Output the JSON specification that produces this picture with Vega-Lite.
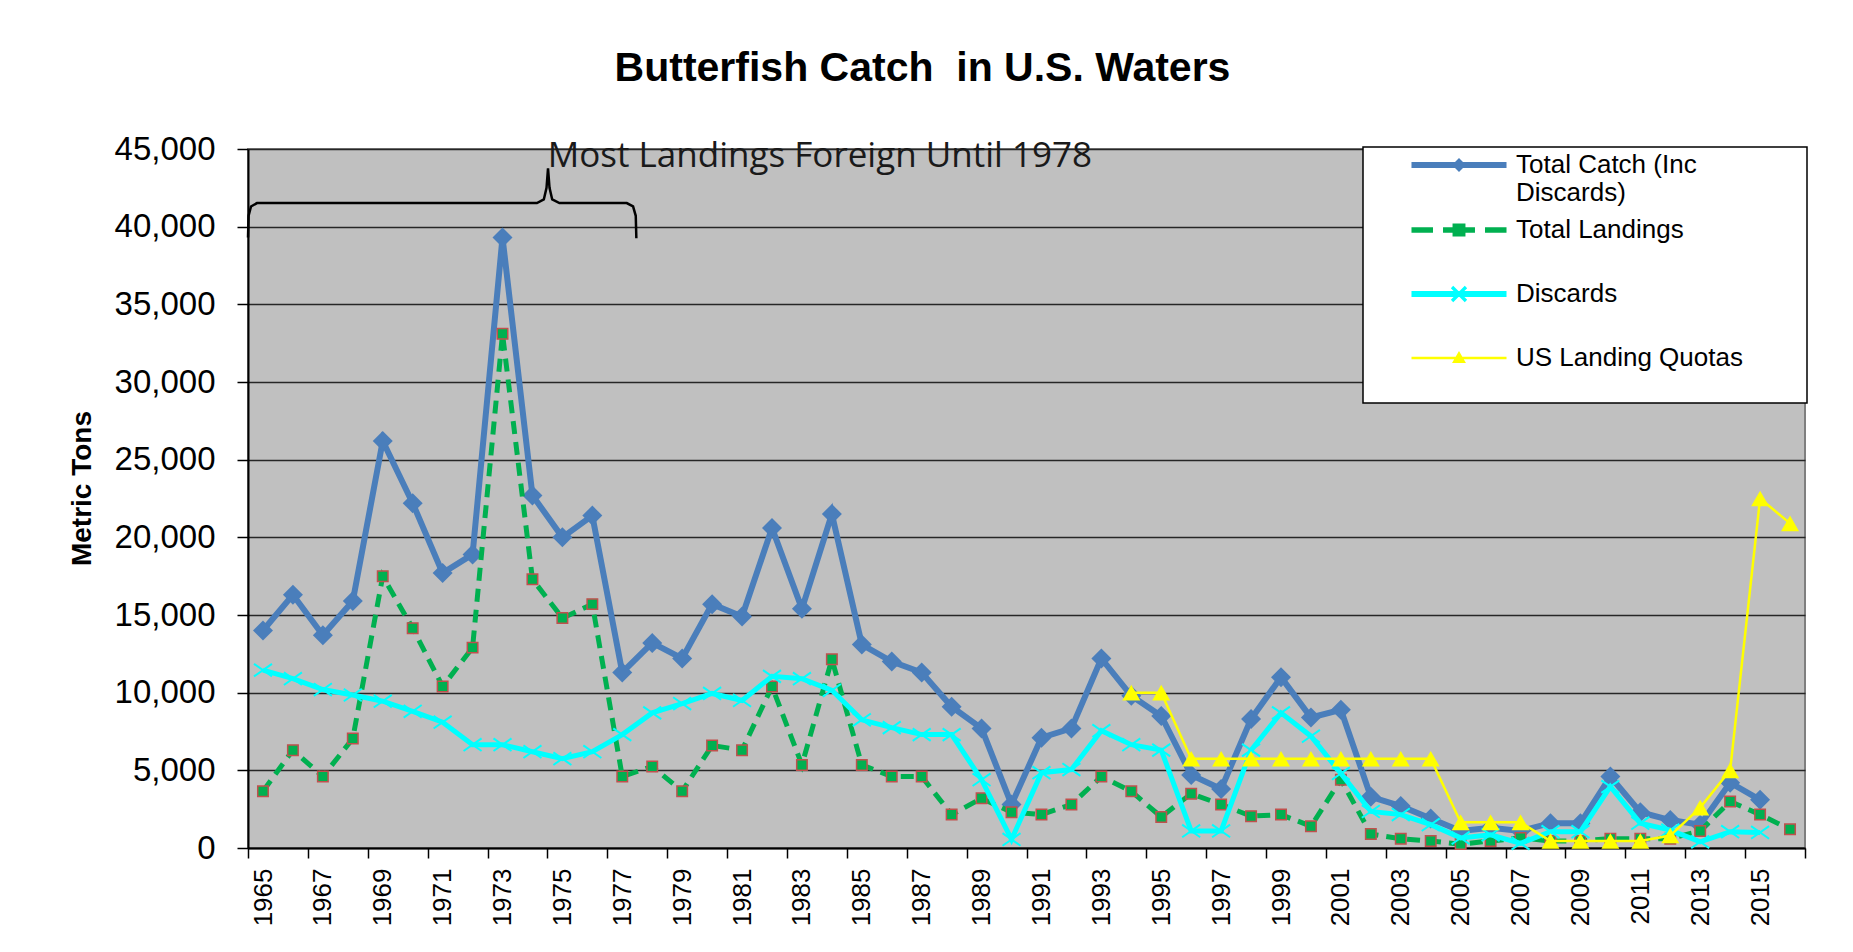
{
  "$schema": "https://vega.github.io/schema/vega-lite/v6.json",
  "width": 1557,
  "height": 699,
  "autosize": "none",
  "padding": {"left": 248, "top": 149, "right": 48, "bottom": 104},
  "background": "white",
  "config": {
    "font": "Liberation Sans",
    "view": {"fill": "#C0C0C0", "stroke": "#7F7F7F", "strokeWidth": 2}
  },
  "title": {
    "text": "Butterfish Catch\u00a0 in U.S. Waters",
    "font": "Liberation Sans",
    "fontSize": 41,
    "fontWeight": "bold",
    "color": "black",
    "anchor": "middle",
    "frame": "group",
    "baseline": "alphabetic",
    "offset": 11,
    "dx": -104
  },
  "datasets": {
    "catch": [
      {"year": 1965, "tc": 14000, "tl": 3650, "d": 11450, "q": null},
      {"year": 1966, "tc": 16300, "tl": 6300, "d": 10900, "q": null},
      {"year": 1967, "tc": 13700, "tl": 4600, "d": 10200, "q": null},
      {"year": 1968, "tc": 15900, "tl": 7050, "d": 9850, "q": null},
      {"year": 1969, "tc": 26200, "tl": 17500, "d": 9450, "q": null},
      {"year": 1970, "tc": 22200, "tl": 14150, "d": 8800, "q": null},
      {"year": 1971, "tc": 17700, "tl": 10400, "d": 8100, "q": null},
      {"year": 1972, "tc": 18900, "tl": 12900, "d": 6650, "q": null},
      {"year": 1973, "tc": 39300, "tl": 33100, "d": 6650, "q": null},
      {"year": 1974, "tc": 22700, "tl": 17300, "d": 6200, "q": null},
      {"year": 1975, "tc": 20000, "tl": 14800, "d": 5750, "q": null},
      {"year": 1976, "tc": 21400, "tl": 15700, "d": 6200, "q": null},
      {"year": 1977, "tc": 11300, "tl": 4600, "d": 7300, "q": null},
      {"year": 1978, "tc": 13200, "tl": 5250, "d": 8700, "q": null},
      {"year": 1979, "tc": 12200, "tl": 3650, "d": 9300, "q": null},
      {"year": 1980, "tc": 15700, "tl": 6600, "d": 9950, "q": null},
      {"year": 1981, "tc": 14900, "tl": 6300, "d": 9500, "q": null},
      {"year": 1982, "tc": 20600, "tl": 10400, "d": 11050, "q": null},
      {"year": 1983, "tc": 15400, "tl": 5350, "d": 10900, "q": null},
      {"year": 1984, "tc": 21500, "tl": 12150, "d": 10150, "q": null},
      {"year": 1985, "tc": 13100, "tl": 5350, "d": 8250, "q": null},
      {"year": 1986, "tc": 12000, "tl": 4600, "d": 7750, "q": null},
      {"year": 1987, "tc": 11300, "tl": 4600, "d": 7300, "q": null},
      {"year": 1988, "tc": 9100, "tl": 2150, "d": 7300, "q": null},
      {"year": 1989, "tc": 7700, "tl": 3200, "d": 4400, "q": null},
      {"year": 1990, "tc": 2800, "tl": 2300, "d": 550, "q": null},
      {"year": 1991, "tc": 7100, "tl": 2150, "d": 4850, "q": null},
      {"year": 1992, "tc": 7700, "tl": 2800, "d": 5050, "q": null},
      {"year": 1993, "tc": 12200, "tl": 4600, "d": 7550, "q": null},
      {"year": 1994, "tc": 9800, "tl": 3650, "d": 6650, "q": 10000},
      {"year": 1995, "tc": 8500, "tl": 2000, "d": 6300, "q": 10000},
      {"year": 1996, "tc": 4700, "tl": 3500, "d": 1100, "q": 5750},
      {"year": 1997, "tc": 3800, "tl": 2800, "d": 1100, "q": 5750},
      {"year": 1998, "tc": 8300, "tl": 2050, "d": 6300, "q": 5750},
      {"year": 1999, "tc": 11000, "tl": 2150, "d": 8700, "q": 5750},
      {"year": 2000, "tc": 8400, "tl": 1400, "d": 7200, "q": 5750},
      {"year": 2001, "tc": 8900, "tl": 4400, "d": 4800, "q": 5750},
      {"year": 2002, "tc": 3300, "tl": 900, "d": 2350, "q": 5750},
      {"year": 2003, "tc": 2700, "tl": 600, "d": 2150, "q": 5750},
      {"year": 2004, "tc": 1900, "tl": 450, "d": 1500, "q": 5750},
      {"year": 2005, "tc": 1100, "tl": 250, "d": 650, "q": 1650},
      {"year": 2006, "tc": 1300, "tl": 450, "d": 850, "q": 1650},
      {"year": 2007, "tc": 1100, "tl": 650, "d": 300, "q": 1650},
      {"year": 2008, "tc": 1600, "tl": 450, "d": 1050, "q": 450},
      {"year": 2009, "tc": 1600, "tl": 450, "d": 1050, "q": 450},
      {"year": 2010, "tc": 4600, "tl": 600, "d": 3950, "q": 450},
      {"year": 2011, "tc": 2300, "tl": 600, "d": 1600, "q": 450},
      {"year": 2012, "tc": 1800, "tl": 600, "d": 1150, "q": 800},
      {"year": 2013, "tc": 1500, "tl": 1100, "d": 400, "q": 2600},
      {"year": 2014, "tc": 4200, "tl": 3000, "d": 1050, "q": 5000},
      {"year": 2015, "tc": 3100, "tl": 2150, "d": 1000, "q": 22500},
      {"year": 2016, "tc": null, "tl": 1200, "d": null, "q": 20900}
    ],
    "brace": [
      {"i": 0, "bx": 1964.5, "by": 39300},
      {"i": 1, "bx": 1964.52, "by": 40700},
      {"i": 2, "bx": 1964.6, "by": 41300},
      {"i": 3, "bx": 1964.8, "by": 41520},
      {"i": 4, "bx": 1974.15, "by": 41520},
      {"i": 5, "bx": 1974.38, "by": 41750},
      {"i": 6, "bx": 1974.47, "by": 42500},
      {"i": 7, "bx": 1974.52, "by": 43750},
      {"i": 8, "bx": 1974.57, "by": 42500},
      {"i": 9, "bx": 1974.66, "by": 41750},
      {"i": 10, "bx": 1974.9, "by": 41520},
      {"i": 11, "bx": 1977.15, "by": 41520},
      {"i": 12, "bx": 1977.36, "by": 41300},
      {"i": 13, "bx": 1977.45, "by": 40700},
      {"i": 14, "bx": 1977.47, "by": 39250}
    ],
    "note": [
      {"nx": 1983.6, "ny": 43850, "label": "Most Landings Foreign Until 1978"}
    ]
  },
  "layer": [
    {
      "data": {"name": "catch"},
      "mark": {"type": "line", "strokeWidth": 6, "clip": false},
      "encoding": {
        "x": {
          "field": "year", "type": "quantitative", "title": null,
          "scale": {"domain": [1964.5, 2016.5], "nice": false, "zero": false},
          "axis": {
            "values": [1964.5, 1965.5, 1966.5, 1967.5, 1968.5, 1969.5, 1970.5, 1971.5, 1972.5, 1973.5, 1974.5, 1975.5, 1976.5, 1977.5, 1978.5, 1979.5, 1980.5, 1981.5, 1982.5, 1983.5, 1984.5, 1985.5, 1986.5, 1987.5, 1988.5, 1989.5, 1990.5, 1991.5, 1992.5, 1993.5, 1994.5, 1995.5, 1996.5, 1997.5, 1998.5, 1999.5, 2000.5, 2001.5, 2002.5, 2003.5, 2004.5, 2005.5, 2006.5, 2007.5, 2008.5, 2009.5, 2010.5, 2011.5, 2012.5, 2013.5, 2014.5, 2015.5, 2016.5],
            "labelExpr": "datum.value < 2016 && (datum.value + 0.5) % 2 == 1 ? '' + (datum.value + 0.5) : ''",
            "labelAngle": -90,
            "labelAlign": "right",
            "labelBaseline": "middle",
            "labelOffset": 15,
            "labelFontSize": 26,
            "labelFont": "Liberation Sans",
            "labelColor": "black",
            "labelPadding": 10,
            "labelOverlap": false,
            "labelBound": false,
            "labelFlush": false,
            "tickColor": "black",
            "tickSize": 10,
            "tickWidth": 1.5,
            "domainColor": "black",
            "domainWidth": 2,
            "grid": false
          }
        },
        "y": {
          "field": "tc", "type": "quantitative", "title": "Metric Tons",
          "scale": {"domain": [0, 45000], "nice": false},
          "axis": {
            "values": [0, 5000, 10000, 15000, 20000, 25000, 30000, 35000, 40000, 45000],
            "format": ",d",
            "labelFontSize": 33,
            "labelFont": "Liberation Sans",
            "labelColor": "black",
            "labelPadding": 22,
            "tickColor": "black",
            "tickSize": 11,
            "tickWidth": 1.5,
            "domainColor": "black",
            "domainWidth": 2,
            "grid": true,
            "gridColor": "#262626",
            "gridWidth": 1.5,
            "titleFont": "Liberation Sans",
            "titleFontSize": 28,
            "titleFontWeight": "bold",
            "titleColor": "black",
            "titlePadding": 18,
            "titleY": 339
          }
        },
        "color": {
          "datum": "Total Catch (Inc Discards)",
          "type": "nominal",
          "scale": {
            "domain": ["Total Catch (Inc Discards)", "Total Landings", "Discards", "US Landing Quotas"],
            "range": ["#4A7EBB", "#00B050", "#00FFFF", "#FFFF00"]
          },
          "legend": {
            "orient": "none",
            "legendX": 1115,
            "legendY": -2,
            "title": null,
            "fillColor": "white",
            "strokeColor": "black",
            "padding": 5,
            "symbolSize": 289,
            "symbolStrokeWidth": 0,
            "symbolOffset": 78,
            "labelFont": "Liberation Sans",
            "labelFontSize": 26,
            "labelColor": "black",
            "labelOffset": 44,
            "labelLimit": 500,
            "labelBaseline": "middle",
            "rowPadding": 11,
            "labelExpr": "datum.label == 'Total Catch (Inc Discards)' ? ['Total Catch (Inc', 'Discards)'] : datum.label",
            "encode": {
              "symbols": {
                "update": {
                  "shape": {"signal": "(datum.value == 'Total Catch (Inc Discards)' ? 'M-5.59,-0.35H5.59V0.35H-5.59ZM0,-0.82L0.82,0L0,0.82L-0.82,0Z' : datum.value == 'Total Landings' ? 'M-5.59,-0.32H-3.06V0.32H-5.59ZM-1.88,-0.32H1.88V0.32H-1.88ZM3.06,-0.32H5.59V0.32H3.06ZM-0.76,-0.76H0.76V0.76H-0.76Z' : datum.value == 'Discards' ? 'M-5.59,-0.35H5.59V0.35H-5.59ZM-0.68,-0.96L0.96,0.68L0.68,0.96L-0.96,-0.68ZM0.68,-0.96L0.96,-0.68L-0.68,0.96L-0.96,0.68Z' : 'M-5.59,-0.15H5.59V0.15H-5.59ZM0,-0.82L0.82,0.6H-0.82Z') + 'M0,4.7M40.3,0'"},
                  "fill": {"signal": "scale('color', datum.value)"},
                  "stroke": {"value": "transparent"},
                  "strokeWidth": {"value": 0},
                  "opacity": {"value": 1}
                }
              },
              "labels": {
                "update": {
                  "lineHeight": {"value": 28}
                }
              },
              "legend": {
                "update": {
                  "strokeWidth": {"value": 1.5}
                }
              }
            }
          }
        }
      }
    },
    {
      "data": {"name": "catch"},
      "mark": {"type": "point", "shape": "diamond", "size": 400, "filled": true, "fill": "#4A7EBB", "opacity": 1, "strokeWidth": 0, "clip": false},
      "encoding": {
        "x": {"field": "year", "type": "quantitative", "title": null},
        "y": {"field": "tc", "type": "quantitative", "title": "Metric Tons"}
      }
    },
    {
      "data": {"name": "catch"},
      "mark": {"type": "line", "strokeWidth": 5, "strokeDash": [13, 8], "clip": false},
      "encoding": {
        "x": {"field": "year", "type": "quantitative", "title": null},
        "y": {"field": "tl", "type": "quantitative", "title": "Metric Tons"},
        "color": {"datum": "Total Landings", "type": "nominal"}
      }
    },
    {
      "data": {"name": "catch"},
      "mark": {"type": "point", "shape": "square", "size": 110, "filled": true, "fill": "#00B050", "stroke": "#C0504D", "strokeWidth": 1.5, "opacity": 1, "clip": false},
      "encoding": {
        "x": {"field": "year", "type": "quantitative", "title": null},
        "y": {"field": "tl", "type": "quantitative", "title": "Metric Tons"}
      }
    },
    {
      "data": {"name": "catch"},
      "mark": {"type": "line", "strokeWidth": 5, "clip": false},
      "encoding": {
        "x": {"field": "year", "type": "quantitative", "title": null},
        "y": {"field": "d", "type": "quantitative", "title": "Metric Tons"},
        "color": {"datum": "Discards", "type": "nominal"}
      }
    },
    {
      "data": {"name": "catch"},
      "mark": {"type": "point", "shape": "M-1,-0.7L1,0.7M1,-0.7L-1,0.7", "size": 324, "filled": false, "stroke": "#00FFFF", "strokeWidth": 2, "opacity": 1, "clip": false},
      "encoding": {
        "x": {"field": "year", "type": "quantitative", "title": null},
        "y": {"field": "d", "type": "quantitative", "title": "Metric Tons"}
      }
    },
    {
      "data": {"name": "catch"},
      "mark": {"type": "line", "strokeWidth": 2.5, "clip": false},
      "encoding": {
        "x": {"field": "year", "type": "quantitative", "title": null},
        "y": {"field": "q", "type": "quantitative", "title": "Metric Tons"},
        "color": {"datum": "US Landing Quotas", "type": "nominal"}
      }
    },
    {
      "data": {"name": "catch"},
      "mark": {"type": "point", "shape": "triangle-up", "size": 324, "filled": true, "fill": "#FFFF00", "strokeWidth": 0, "opacity": 1, "clip": false},
      "encoding": {
        "x": {"field": "year", "type": "quantitative", "title": null},
        "y": {"field": "q", "type": "quantitative", "title": "Metric Tons"}
      }
    },
    {
      "data": {"name": "brace"},
      "mark": {"type": "line", "color": "black", "strokeWidth": 2.5, "clip": false},
      "encoding": {
        "x": {"field": "bx", "type": "quantitative", "title": null},
        "y": {"field": "by", "type": "quantitative", "title": "Metric Tons"},
        "order": {"field": "i", "type": "quantitative"}
      }
    },
    {
      "data": {"name": "note"},
      "mark": {"type": "text", "font": "Open Sans", "fontSize": 35, "color": "#1a1a1a", "align": "center", "baseline": "alphabetic", "clip": false},
      "encoding": {
        "x": {"field": "nx", "type": "quantitative", "title": null},
        "y": {"field": "ny", "type": "quantitative", "title": "Metric Tons"},
        "text": {"field": "label"}
      }
    }
  ]
}
